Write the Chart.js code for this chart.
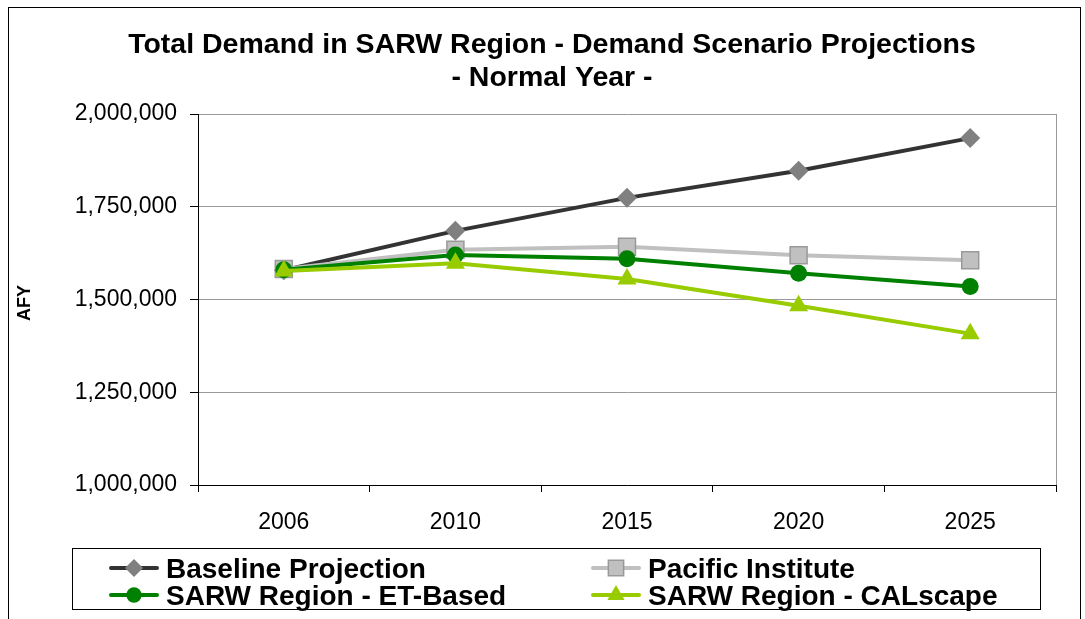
<!DOCTYPE html>
<html><head><meta charset="utf-8">
<script src="https://cdn.jsdelivr.net/npm/chart.js@4.4.1/dist/chart.umd.min.js"></script>
<style>html,body{margin:0;padding:0;background:#fff;}#wrap{width:1085px;height:619px;position:relative;}</style>
</head><body><div id="wrap"><canvas id="c" width="1085" height="619"></canvas></div>
<script>
// ---- data ----
const categories = ['2006', '2010', '2015', '2020', '2025'];
const baseline = [1579000, 1685000, 1774000, 1847000, 1935000];
const pacific = [1582000, 1634000, 1642000, 1619000, 1606000];
const etBased = [1580000, 1620000, 1610000, 1571000, 1535000];
const calscape = [1577000, 1598000, 1555000, 1483000, 1408000];
const seriesNames = ['Baseline Projection', 'Pacific Institute', 'SARW Region - ET-Based', 'SARW Region - CALscape'];
const titleLines = ['Total Demand in SARW Region - Demand Scenario Projections', '- Normal Year -'];
const yAxisTitle = 'AFY';
const yMin = 1000000, yMax = 2000000, yStep = 250000;

const FONT = '"Liberation Sans", Arial, sans-serif';

function drawMarker(ctx, style, x, y, r, fill, stroke, bw) {
  ctx.save();
  ctx.beginPath();
  if (style === 'rectRot') {
    ctx.moveTo(x, y - r); ctx.lineTo(x + r, y); ctx.lineTo(x, y + r); ctx.lineTo(x - r, y); ctx.closePath();
  } else if (style === 'rect') {
    const s = r * Math.SQRT1_2; ctx.rect(x - s, y - s, 2 * s, 2 * s);
  } else if (style === 'circle') {
    ctx.arc(x, y, r, 0, Math.PI * 2);
  } else if (style === 'triangle') {
    for (let i = 0; i < 3; i++) {
      const a = i * 2 * Math.PI / 3;
      const px = x + Math.sin(a) * r, py = y - Math.cos(a) * r;
      if (i === 0) ctx.moveTo(px, py); else ctx.lineTo(px, py);
    }
    ctx.closePath();
  }
  ctx.fillStyle = fill; ctx.fill();
  if (bw) { ctx.strokeStyle = stroke; ctx.lineWidth = bw; ctx.stroke(); }
  ctx.restore();
}

const decor = {
  id: 'decor',
  beforeDraw(chart) {
    const ctx = chart.ctx;
    ctx.save();
    ctx.fillStyle = '#fff';
    ctx.fillRect(0, 0, chart.width, chart.height);
    ctx.restore();
  },
  afterDatasetsDraw(chart) {
    const ctx = chart.ctx, a = chart.chartArea;
    ctx.save();
    ctx.strokeStyle = '#999';
    ctx.lineWidth = 1;
    ctx.beginPath();
    ctx.moveTo(Math.round(a.right) + 0.5, a.top);
    ctx.lineTo(Math.round(a.right) + 0.5, a.bottom);
    ctx.stroke();
    ctx.restore();
  },
  afterDraw(chart) {
    const ctx = chart.ctx;
    ctx.save();
    // outer frame
    ctx.strokeStyle = '#000';
    ctx.lineWidth = 1;
    ctx.strokeRect(8.5, 7.5, 1072, 640);
    // title
    ctx.fillStyle = '#000';
    ctx.textAlign = 'center';
    ctx.textBaseline = 'alphabetic';
    ctx.font = 'bold 28.5px ' + FONT;
    ctx.fillText(titleLines[0], 552, 53);
    ctx.fillText(titleLines[1], 552, 86);
    // y axis title
    ctx.save();
    ctx.translate(25, 303);
    ctx.rotate(-Math.PI / 2);
    ctx.textBaseline = 'middle';
    ctx.font = 'bold 18px ' + FONT;
    ctx.fillText(yAxisTitle, 0, 0);
    ctx.restore();
    // legend box
    ctx.strokeStyle = '#000';
    ctx.strokeRect(72.5, 548.5, 968, 61);
    const pos = [[109, 568], [591, 568], [109, 595], [591, 595]];
    const ds = chart.data.datasets;
    ctx.textAlign = 'left';
    ctx.textBaseline = 'alphabetic';
    ctx.font = 'bold 28px ' + FONT;
    for (let i = 0; i < 4; i++) {
      const d = ds[i];
      const [x, y] = pos[i];
      ctx.strokeStyle = d.borderColor;
      ctx.lineWidth = 4;
      ctx.lineCap = 'round';
      ctx.beginPath(); ctx.moveTo(x + 2, y); ctx.lineTo(x + 48, y); ctx.stroke();
      drawMarker(ctx, d.pointStyle, x + 25, y, d.pointRadius * 0.9, d.pointBackgroundColor, d.pointBorderColor, d.pointBorderWidth);
      ctx.fillStyle = '#000';
      ctx.fillText(seriesNames[i], x + 57, y + 10);
    }
    ctx.restore();
  }
};

new Chart(document.getElementById('c'), {
  type: 'line',
  data: {
    labels: categories,
    datasets: [
      { label: seriesNames[0], data: baseline, borderColor: '#333333', borderWidth: 4,
        pointStyle: 'rectRot', pointRadius: 10, pointBackgroundColor: '#808080', pointBorderColor: '#808080', pointBorderWidth: 0, order: 3 },
      { label: seriesNames[1], data: pacific, borderColor: '#c0c0c0', borderWidth: 4,
        pointStyle: 'rect', pointRadius: 12, pointBackgroundColor: '#c0c0c0', pointBorderColor: '#999999', pointBorderWidth: 1.5, order: 2 },
      { label: seriesNames[2], data: etBased, borderColor: '#008000', borderWidth: 4,
        pointStyle: 'circle', pointRadius: 8.5, pointBackgroundColor: '#008000', pointBorderColor: '#008000', pointBorderWidth: 0, order: 1 },
      { label: seriesNames[3], data: calscape, borderColor: '#99cc00', borderWidth: 4,
        pointStyle: 'triangle', pointRadius: 11, pointBackgroundColor: '#99cc00', pointBorderColor: '#99cc00', pointBorderWidth: 0, order: 0 }
    ]
  },
  options: {
    responsive: false,
    animation: false,
    layout: { padding: { left: 0, right: 29, top: 114, bottom: 0 } },
    plugins: { legend: { display: false }, title: { display: false }, tooltip: { enabled: false } },
    elements: { line: { tension: 0 } },
    scales: {
      x: {
        offset: true,
        grid: { offset: true, drawOnChartArea: false, drawTicks: true, tickLength: 7, tickColor: '#000', lineWidth: 1 },
        border: { color: '#000', width: 1 },
        ticks: { color: '#000', font: { family: FONT, size: 23 }, padding: 17, maxRotation: 0 },
        afterFit(scale) { scale.height = 134; }
      },
      y: {
        min: yMin, max: yMax,
        grid: { color: '#999', drawTicks: true, tickLength: 8, tickColor: '#000', lineWidth: 1 },
        border: { color: '#000', width: 1 },
        ticks: { stepSize: yStep, color: '#000', font: { family: FONT, size: 23 }, padding: 13,
          callback: v => v.toLocaleString('en-US') },
        afterFit(scale) { scale.width = 198; }
      }
    }
  },
  plugins: [decor]
});
</script>
</body></html>
